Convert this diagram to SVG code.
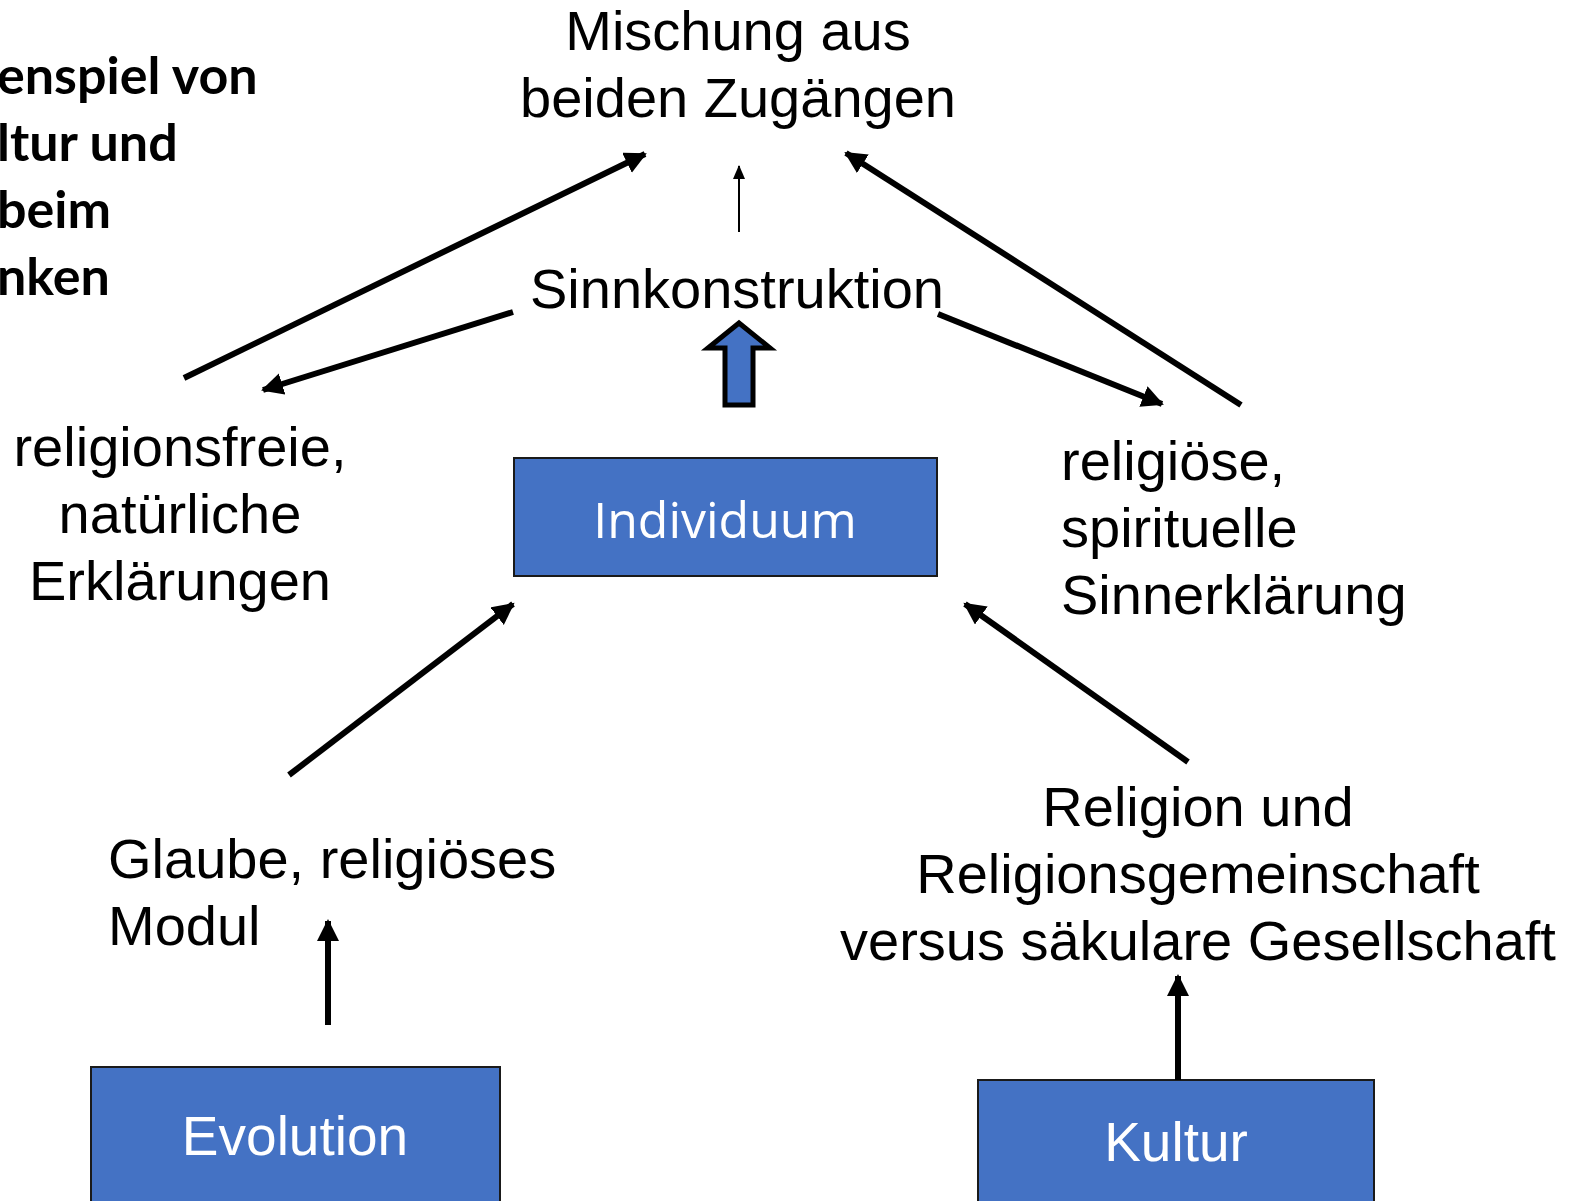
<svg xmlns="http://www.w3.org/2000/svg" width="1571" height="1201" viewBox="0 0 1571 1201">
<defs>
<style>
.t{font-family:"Liberation Sans",Arial,sans-serif;font-size:56px;fill:#000}
.b{font-family:Lato,"Open Sans",sans-serif;font-weight:bold;font-size:52px;fill:#000}
.box{fill:#4472C4;stroke:#1a1a1a;stroke-width:2}
.bt{font-family:"Liberation Sans",Arial,sans-serif;font-size:55px;fill:#fff;text-anchor:middle}
.c{stroke:#000;stroke-width:6;fill:none;marker-end:url(#ah)}
</style>
<marker id="ah" markerUnits="userSpaceOnUse" markerWidth="24" markerHeight="24" refX="20" refY="11" orient="auto">
<path d="M0,0 L22,11 L0,22 Z" fill="#000"/>
</marker>
<marker id="ahs" markerUnits="userSpaceOnUse" markerWidth="14" markerHeight="14" refX="13" refY="6" orient="auto">
<path d="M0,0 L14,6 L0,12 Z" fill="#000"/>
</marker>
</defs>
<rect width="1571" height="1201" fill="#fff"/>
<g id="title">
<text class="b" x="-3" y="94">enspiel von</text>
<text class="b" x="-3" y="161">ltur und</text>
<text class="b" x="-3" y="228">beim</text>
<text class="b" x="-3" y="295">nken</text>
</g>
<g id="mischung">
<text class="t" x="738" y="50" text-anchor="middle">Mischung aus</text>
<text class="t" x="738" y="117" text-anchor="middle">beiden Zugängen</text>
</g>
<g id="sinn">
<text class="t" x="737" y="308" text-anchor="middle">Sinnkonstruktion</text>
</g>
<g id="religionsfrei">
<text class="t" x="180" y="466" text-anchor="middle">religionsfreie,</text>
<text class="t" x="180" y="533" text-anchor="middle">natürliche</text>
<text class="t" x="180" y="600" text-anchor="middle">Erklärungen</text>
</g>
<g id="religioes">
<text class="t" x="1061" y="480">religiöse,</text>
<text class="t" x="1061" y="547">spirituelle</text>
<text class="t" x="1061" y="614">Sinnerklärung</text>
</g>
<g id="individuum">
<rect class="box" x="514" y="458" width="423" height="118"/>
<text x="725" y="538" text-anchor="middle" style="font-family:'Open Sans','Noto Sans',sans-serif;font-size:50px;fill:#fff">Individuum</text>
</g>
<g id="glaube">
<text class="t" x="108" y="878">Glaube, religiöses</text>
<text class="t" x="108" y="945">Modul</text>
</g>
<g id="religion">
<text class="t" x="1198" y="826" text-anchor="middle">Religion und</text>
<text class="t" x="1198" y="893" text-anchor="middle">Religionsgemeinschaft</text>
<text class="t" x="1198" y="960" text-anchor="middle">versus säkulare Gesellschaft</text>
</g>
<g id="evolution">
<rect class="box" x="91" y="1067" width="409" height="140"/>
<text class="bt" x="295" y="1155">Evolution</text>
</g>
<g id="kultur">
<rect class="box" x="978" y="1080" width="396" height="130"/>
<text class="bt" x="1176" y="1161">Kultur</text>
</g>
<g id="connectors">
<line class="c" x1="184" y1="378" x2="645" y2="154"/>
<line class="c" x1="513" y1="312" x2="263" y2="390"/>
<line x1="739" y1="232" x2="739" y2="166" stroke="#000" stroke-width="2" marker-end="url(#ahs)"/>
<path d="M725,405 L725,348 L708,348 L739,323 L770,348 L753,348 L753,405 Z" fill="#4472C4" stroke="#000" stroke-width="5" stroke-linejoin="miter"/>
<line class="c" x1="938" y1="314" x2="1162" y2="404"/>
<line class="c" x1="1241" y1="405" x2="846" y2="153"/>
<line class="c" x1="289" y1="775" x2="513" y2="604"/>
<line class="c" x1="1188" y1="762" x2="965" y2="604"/>
<line class="c" x1="328" y1="1025" x2="328" y2="921"/>
<line class="c" x1="1178" y1="1080" x2="1178" y2="976"/>
</g>
</svg>
